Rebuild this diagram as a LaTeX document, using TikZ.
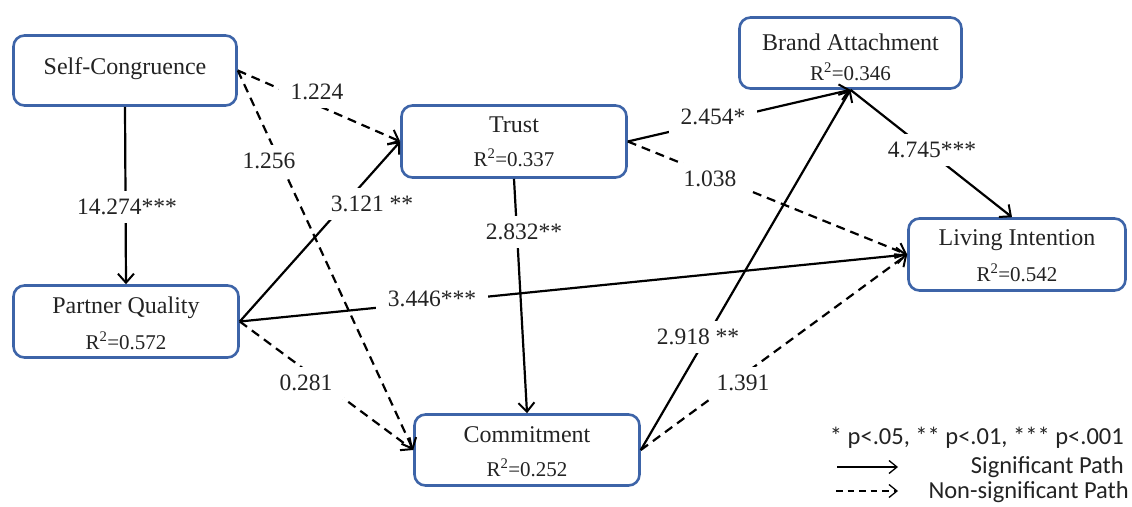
\documentclass[tikz,border=0pt]{standalone}
\usepackage{fontspec}
\setmainfont{Liberation Serif}
\newfontfamily\legendfont{Carlito}
\usetikzlibrary{arrows.meta}
\definecolor{boxblue}{RGB}{61,100,168}
\definecolor{ink}{RGB}{35,35,35}

\begin{document}
\begin{tikzpicture}[x=1pt,y=-1pt,
  box/.style={draw=boxblue, line width=2.6pt, rounded corners=11pt, fill=white,
    inner sep=0pt},
  title/.style={text=ink, font=\fontsize{24}{28}\selectfont, inner sep=0pt},
  rsq/.style={text=ink, font=\fontsize{21}{25}\selectfont, inner sep=0pt},
  path/.style={draw=black, line width=2.2pt,
    -{Straight Barb[length=9pt,width=16pt,line width=2pt]}},
  nspath/.style={path, dash pattern=on 9pt off 6pt},
  lbl/.style={fill=white, text=ink, inner xsep=12pt, inner ysep=8pt,
    font=\fontsize{23.5}{28}\selectfont},
  legtext/.style={text=ink, font=\legendfont\fontsize{24.5}{28}\selectfont,
    inner sep=0pt, anchor=east},
  legarrow/.style={draw=black, line width=1.3pt,
    -{Straight Barb[length=8pt,width=13pt,line width=1.3pt]}}
]
\useasboundingbox (0,0) rectangle (1132,506);

% constructs
\node[box, minimum width=223pt, minimum height=70pt] (sc)    at (125,70.5)  {};
\node[box, minimum width=225pt, minimum height=72pt] (trust) at (514,141.5) {};
\node[box, minimum width=222pt, minimum height=71pt] (ba)    at (850.5,53)  {};
\node[box, minimum width=217pt, minimum height=72pt] (li)    at (1017,254.5){};
\node[box, minimum width=225pt, minimum height=72pt] (pq)    at (126,321.5) {};
\node[box, minimum width=225pt, minimum height=71pt] (com)   at (527,450)   {};

\node[title] (scT)    at (125,69)    {Self-Congruence};
\node[title] (trustT) at (514,125)   {Trust};
\node[rsq]   (trustR) at (514,158)   {R\textsuperscript{2}=0.337};
\node[title] (baT)    at (850.5,42)  {Brand Attachment};
\node[rsq]   (baR)    at (850.5,72)  {R\textsuperscript{2}=0.346};
\node[title] (liT)    at (1017,240)  {Living Intention};
\node[rsq]   (liR)    at (1017,273)  {R\textsuperscript{2}=0.542};
\node[title] (pqT)    at (126,308)   {Partner Quality};
\node[rsq]   (pqR)    at (126,341)   {R\textsuperscript{2}=0.572};
\node[title] (comT)   at (527,435)   {Commitment};
\node[rsq]   (comR)   at (527,468)   {R\textsuperscript{2}=0.252};

% structural paths
\draw[path]   (sc.south)   -- (pq.north);
\draw[nspath] (sc.east)    -- (trust.west);
\draw[nspath] (sc.east)    -- (com.west);
\draw[path]   (pq.east)    -- (trust.west);
\draw[path]   (pq.east)    -- (li.west);
\draw[nspath] (pq.east)    -- (com.west);
\draw[path]   (trust.south)-- (com.north);
\draw[path]   (trust.east) -- (ba.south);
\draw[nspath] (trust.east) -- (li.west);
\draw[path]   (ba.south)   -- ([xshift=-5pt]li.north);
\draw[path]   (com.east)   -- (ba.south);
\draw[nspath] (com.east)   -- (li.west);

% path coefficients
\node[lbl] (l1)  at (127,207) {14.274***};
\node[lbl] (l2)  at (317,92)  {1.224};
\node[lbl] (l3)  at (269,161) {1.256};
\node[lbl] (l4)  at (372,204) {3.121 **};
\node[lbl] (l5)  at (524,232) {2.832**};
\node[lbl] (l6)  at (713,117) {2.454*};
\node[lbl] (l7)  at (710,179) {1.038};
\node[lbl] (l8)  at (932,150) {4.745***};
\node[lbl] (l9)  at (432,299) {3.446***};
\node[lbl] (l10) at (306,383) {0.281};
\node[lbl] (l11) at (698,337) {2.918 **};
\node[lbl] (l12) at (743,383) {1.391};

% legend
\node[legtext] (sig)  at (1124,438) {* p<.05, ** p<.01, *** p<.001};
\node[legtext] (sigP) at (1124,467) {Significant Path};
\node[legtext] (nsP)  at (1129,492) {Non-significant Path};
\coordinate (sA) at (837,467);
\coordinate (sB) at (898,467);
\coordinate (nA) at (836,491);
\coordinate (nB) at (898,491);
\draw[legarrow] (sA) -- (sB);
\draw[legarrow, dash pattern=on 6.5pt off 5pt] (nA) -- (nB);
\end{tikzpicture}
\end{document}
